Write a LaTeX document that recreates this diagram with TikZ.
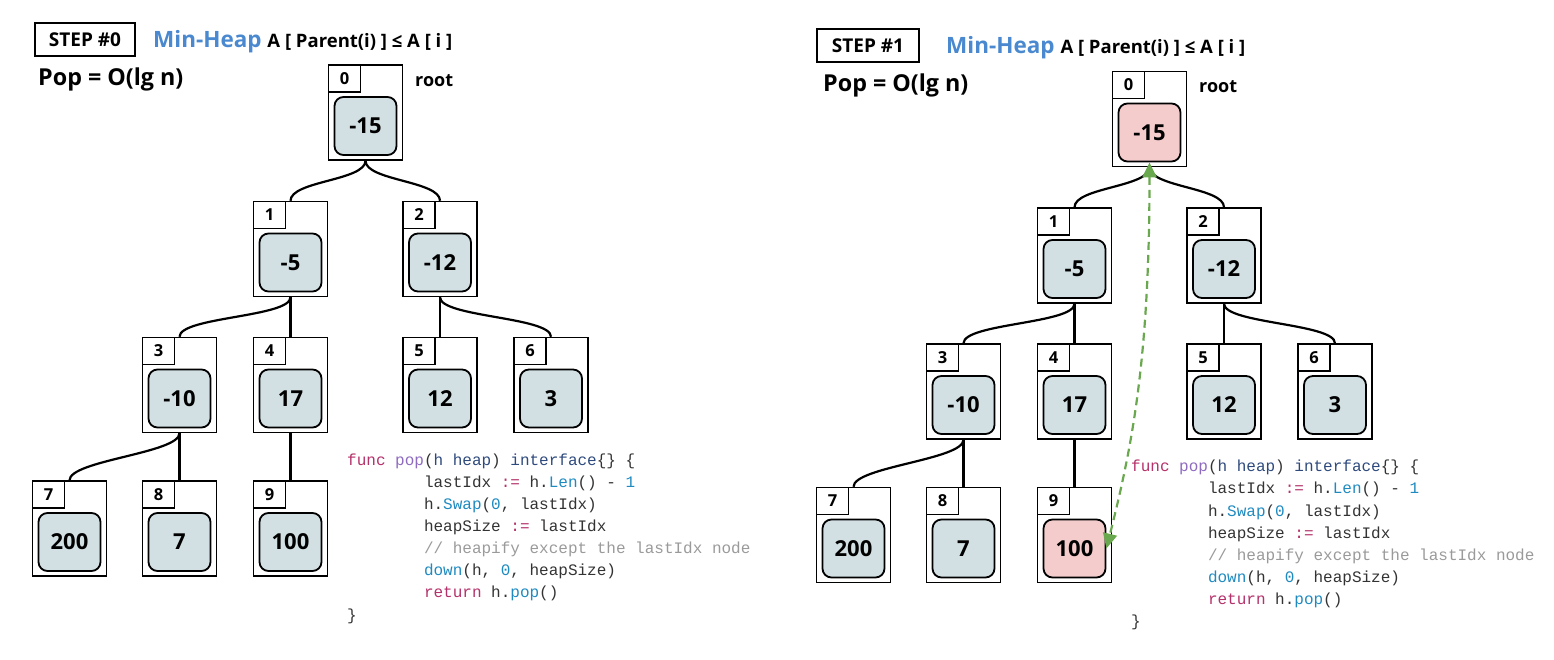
\documentclass[tikz,border=0pt]{standalone}
\usepackage{fontspec}
\setmainfont{Open Sans}
\setmonofont{Liberation Mono}
\usetikzlibrary{arrows.meta}

\definecolor{cellblue}{HTML}{D2E0E3}
\definecolor{cellpink}{HTML}{F4CCCC}
\definecolor{headblue}{HTML}{4A89CF}
\definecolor{swapgreen}{HTML}{6AA84F}
\definecolor{kwred}{HTML}{B4316A}
\definecolor{fnpurple}{HTML}{8E6BBF}
\definecolor{tynavy}{HTML}{2E4A7D}
\definecolor{callblue}{HTML}{1F8AC0}
\definecolor{cmgray}{HTML}{9A9A9A}
\definecolor{codegray}{HTML}{333333}

\newcommand{\gokw}[1]{\textcolor{kwred}{#1}}
\newcommand{\gofn}[1]{\textcolor{fnpurple}{#1}}
\newcommand{\goty}[1]{\textcolor{tynavy}{#1}}
\newcommand{\gocall}[1]{\textcolor{callblue}{#1}}
\newcommand{\gocm}[1]{\textcolor{cmgray}{#1}}
\newcommand{\goind}{\hspace*{4.8em}}

\begin{document}
\begin{tikzpicture}[x=1pt,y=-1pt,
  cell/.style={draw, line width=1.4pt, minimum width=74pt, minimum height=95pt, inner sep=0pt},
  idx/.style={draw, line width=1.4pt, minimum width=32pt, minimum height=27pt, inner sep=0pt,
    anchor=north west, font=\fontsize{16.5}{16.5}\selectfont\bfseries},
  val/.style={draw, line width=1.8pt, rounded corners=9pt, minimum width=62pt, minimum height=58pt,
    inner sep=0pt, font=\fontsize{22}{22}\selectfont\bfseries},
  link/.style={line width=2.2pt},
  stepbox/.style={draw, line width=1.5pt, minimum width=100pt, minimum height=33pt, inner sep=0pt,
    font=\fontsize{19}{19}\selectfont\bfseries},
  title/.style={anchor=base west, inner sep=0pt, font=\bfseries},
  cost/.style={anchor=base west, inner sep=0pt, font=\fontsize{23.3}{23.3}\selectfont\bfseries},
  rootlabel/.style={anchor=base west, inner sep=0pt, font=\fontsize{18}{18}\selectfont\bfseries},
  code/.style={anchor=base west, inner sep=0pt, align=left, text=codegray,
    font=\fontsize{16}{22.1}\selectfont\ttfamily},
  swaplink/.style={<->, >={Triangle[length=15pt,width=14pt]}, swapgreen, line width=2.2pt,
    dash pattern=on 8pt off 5pt}
]
\useasboundingbox (0,0) rectangle (1554,659);

% step 0
\node[stepbox] (step0) at (85,39.5) {STEP \#0};
\node[title] (title0) at (153,47) {\fontsize{22.5}{22.5}\selectfont\color{headblue}Min-Heap
  \fontsize{18.5}{18.5}\selectfont\color{black}A [ Parent(i) ] ≤ A [ i ]};
\node[cost] (cost0) at (38,85) {Pop = O(lg n)};
\node[rootlabel] (root0) at (415,86) {root};

\foreach \i/\x/\y/\v in {0/365.5/112.5/-15, 1/290.5/249/-5, 2/440/249/-12,
  3/179.5/385/-10, 4/290.5/385/17, 5/440/385/12, 6/551/385/3,
  7/69.5/528.5/200, 8/179.5/528.5/7, 9/290.5/528.5/100} {
  \node[cell] (a\i) at (\x,\y) {};
  \node[idx] at (a\i.north west) {\i};
  \node[val, fill=cellblue] (a\i v) at ([yshift=-13.5pt]a\i.center) {\v};
}

% step 1
\node[stepbox, minimum width=102pt] (step1) at (868,45.7) {STEP \#1};
\node[title] (title1) at (946,53) {\fontsize{22.5}{22.5}\selectfont\color{headblue}Min-Heap
  \fontsize{18.5}{18.5}\selectfont\color{black}A [ Parent(i) ] ≤ A [ i ]};
\node[cost] (cost1) at (823,91.5) {Pop = O(lg n)};
\node[rootlabel] (root1) at (1199,92) {root};

\foreach \i/\x/\y/\v/\c in {0/365.5/112.5/-15/cellpink, 1/290.5/249/-5/cellblue,
  2/440/249/-12/cellblue, 3/179.5/385/-10/cellblue, 4/290.5/385/17/cellblue,
  5/440/385/12/cellblue, 6/551/385/3/cellblue, 7/69.5/528.5/200/cellblue,
  8/179.5/528.5/7/cellblue, 9/290.5/528.5/100/cellpink} {
  \node[cell] (b\i) at (\x+784,\y+6.5) {};
  \node[idx] at (b\i.north west) {\i};
  \node[val, fill=\c] (b\i v) at ([yshift=-13.5pt]b\i.center) {\v};
}

% heap links
\foreach \t in {a,b} {
  \draw[link] (\t0.south) .. controls +(0,20) and +(0,-20) .. (\t1.north);
  \draw[link] (\t0.south) .. controls +(0,20) and +(0,-20) .. (\t2.north);
  \draw[link] (\t1.south) .. controls +(0,20) and +(0,-20) .. (\t3.north);
  \draw[link] (\t1.south) -- (\t4.north);
  \draw[link] (\t2.south) -- (\t5.north);
  \draw[link] (\t2.south) .. controls +(0,20) and +(0,-20) .. (\t6.north);
  \draw[link] (\t3.south) .. controls +(0,20) and +(0,-20) .. (\t7.north);
  \draw[link] (\t3.south) -- (\t8.north);
  \draw[link] (\t4.south) -- (\t9.north);
}

% pop code (base = last line)
\node[code] (code0) at (347,620) {\gokw{func} \gofn{pop}(\goty{h heap}) \goty{interface}\{\} \{\\
  \goind lastIdx \gokw{:=} h.\gocall{Len}() - \gocall{1}\\
  \goind h.\gocall{Swap}(\gocall{0}, lastIdx)\\
  \goind heapSize \gokw{:=} lastIdx\\
  \goind \gocm{// heapify except the lastIdx node}\\
  \goind \gocall{down}(h, \gocall{0}, heapSize)\\
  \goind \gokw{return} h.\gocall{pop}()\\
  \}};
\node[code] (code1) at (1131,626.5) {\gokw{func} \gofn{pop}(\goty{h heap}) \goty{interface}\{\} \{\\
  \goind lastIdx \gokw{:=} h.\gocall{Len}() - \gocall{1}\\
  \goind h.\gocall{Swap}(\gocall{0}, lastIdx)\\
  \goind heapSize \gokw{:=} lastIdx\\
  \goind \gocm{// heapify except the lastIdx node}\\
  \goind \gocall{down}(h, \gocall{0}, heapSize)\\
  \goind \gokw{return} h.\gocall{pop}()\\
  \}};

% swap root and last node
\draw[swaplink] (b0v.south) .. controls +(0,200) and +(25,-100) .. (b9v.east);
\end{tikzpicture}
\end{document}
